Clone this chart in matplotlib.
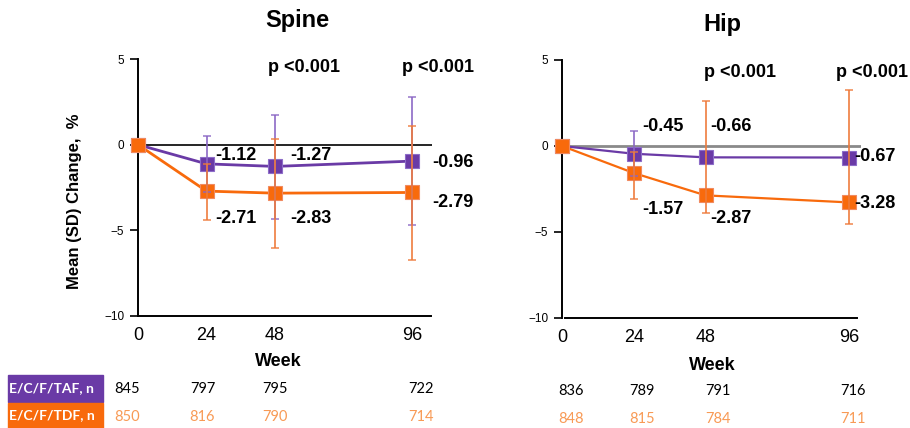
import numpy as np
import matplotlib
matplotlib.use('Agg')
from matplotlib import pyplot as plt
from matplotlib.patches import Rectangle

plt.rcParams['font.family'] = ['Liberation Sans', 'DejaVu Sans']

weeks     = np.array([0, 24, 48, 96])
nan       = np.nan

# mean change, %
spine_taf = np.array([0, -1.12, -1.27, -0.96])
spine_tdf = np.array([0, -2.71, -2.83, -2.79])
hip_taf   = np.array([0, -0.45, -0.66, -0.67])
hip_tdf   = np.array([0, -1.57, -2.87, -3.28])

# error bar ends (SD), as drawn in the picture
spine_taf_lo = np.array([nan, -2.77, -4.35, -4.70])
spine_taf_hi = np.array([nan,  0.53,  1.75,  2.77])
spine_tdf_lo = np.array([nan, -4.42, -6.02, -6.72])
spine_tdf_hi = np.array([nan, -1.13,  0.31,  1.11])
hip_taf_lo   = np.array([nan, -1.75,   nan,   nan])
hip_taf_hi   = np.array([nan,  0.85,   nan,   nan])
hip_tdf_lo   = np.array([nan, -3.08, -3.91, -4.53])
hip_tdf_hi   = np.array([nan, -0.35,  2.62,  3.24])

p_label   = 'p <0.001'
row_names = ['E/C/F/TAF, n', 'E/C/F/TDF, n']
spine_n   = [[845, 797, 795, 722], [850, 816, 790, 714]]
hip_n     = [[836, 789, 791, 716], [848, 815, 784, 711]]

PURPLE   = '#6A3AA6'
ORANGE   = '#F86A0C'
PURPLE_E = '#8A66C4'
ORANGE_E = '#EE7A3A'
ORANGE_T = '#F89A55'

W, H = 910, 428
fig = plt.figure(figsize=(W / 100, H / 100), dpi=100)

def fx(px): return px / W
def fy(py): return 1 - py / H

def draw_bars(ax, mean, lo, hi, color):
  m = ~np.isnan(lo)
  yerr = [mean[m] - lo[m], hi[m] - mean[m]]
  ax.errorbar(weeks[m], mean[m], yerr=yerr, fmt='none', ecolor=color,
              elinewidth=1.3, capsize=2.8, capthick=1.1, alpha=0.9, zorder=5)

def panel(rect, taf, tdf, bars, xmax, zcolor, zlw, lw, ms, xb):
  ax = fig.add_axes(rect)
  ax.plot([0, xmax], [0, 0], color=zcolor, lw=zlw, zorder=1, solid_capstyle='butt')
  ax.plot(weeks, taf, '-s', color=PURPLE, lw=lw, ms=ms, mec='#8C6CC8', mew=0.8, zorder=3, clip_on=False)
  ax.plot(weeks, tdf, '-s', color=ORANGE, lw=lw, ms=ms, mec='#F08A60', mew=0.8, zorder=3, clip_on=False)
  for (mean, lo, hi, c) in bars:
    draw_bars(ax, mean, lo, hi, c)
  ax.set_xlim(0, xmax)
  ax.set_ylim(-10, 5)
  ax.set_yticks([5, 0, -5, -10])
  ax.set_xticks(weeks)
  for s in ['top', 'right']:
    ax.spines[s].set_visible(False)
  ax.spines['left'].set_linewidth(1.4)
  ax.spines['bottom'].set_linewidth(1.4)
  ax.spines['bottom'].set_bounds(*xb)
  ax.tick_params(axis='y', length=6, width=1.2, labelsize=8.5, pad=4)
  ax.tick_params(axis='x', length=0, labelsize=13, pad=8)
  ax.patch.set_alpha(0)
  return ax

ax1 = panel([fx(138), fy(316), fx(432) - fx(138), fy(59) - fy(316)],
            spine_taf, spine_tdf,
            [(spine_taf, spine_taf_lo, spine_taf_hi, PURPLE_E),
             (spine_tdf, spine_tdf_lo, spine_tdf_hi, ORANGE_E)],
            103, 'black', 1.2, 2.0, 10.5, (0, 102.5))
ax2 = panel([fx(562), fy(318), fx(861) - fx(562), fy(60) - fy(318)],
            hip_taf, hip_tdf,
            [(hip_taf, hip_taf_lo, hip_taf_hi, PURPLE_E),
             (hip_tdf, hip_tdf_lo, hip_tdf_hi, ORANGE_E)],
            100, '#8A8A8A', 2.0, 1.6, 9.5, (1.1, 98.8))

lab = dict(fontsize=13, fontweight='bold', va='center', ha='left')
# spine value labels
for x, y, v in [(27, -0.64, spine_taf[1]), (53.3, -0.64, spine_taf[2]), (103, -1.05, spine_taf[3]),
                (27, -4.33, spine_tdf[1]), (53.3, -4.33, spine_tdf[2]), (103, -3.4, spine_tdf[3])]:
  ax1.text(x, y, f'{v:.2f}', clip_on=False, **lab)
for x, y, v in [(27, 1.16, hip_taf[1]), (49.7, 1.16, hip_taf[2]), (97.6, -0.62, hip_taf[3]),
                (27, -3.72, hip_tdf[1]), (49.7, -4.24, hip_tdf[2]), (97.6, -3.37, hip_tdf[3])]:
  ax2.text(x, y, f'{v:.2f}', clip_on=False, **lab)

for x in [58, 105]:
  ax1.text(x, 4.5, p_label, fontsize=13, fontweight='bold', ha='center', va='center', clip_on=False)
for x in [59.4, 103.8]:
  ax2.text(x, 4.3, p_label, fontsize=13, fontweight='bold', ha='center', va='center', clip_on=False)

fig.text(fx(297), fy(21), 'Spine', fontsize=17, fontweight='bold', ha='center', va='center')
fig.text(fx(722), fy(24), 'Hip', fontsize=17, fontweight='bold', ha='center', va='center')
fig.text(fx(278), fy(361), 'Week', fontsize=13, fontweight='bold', ha='center', va='center')
fig.text(fx(712), fy(365), 'Week', fontsize=13, fontweight='bold', ha='center', va='center')
fig.text(fx(74), fy(201), 'Mean (SD) Change,  %', fontsize=12, fontweight='bold',
         rotation=90, ha='center', va='center')

# n at risk table
box_y = [(375, 402), (403, 428)]
for (y0, y1), c, name in zip(box_y, [PURPLE, ORANGE], row_names):
  fig.patches.append(Rectangle((fx(8), fy(y1)), fx(103) - fx(8), fy(y0) - fy(y1),
                               transform=fig.transFigure, color=c, zorder=0))
  fig.text(fx(9), fy((y0 + y1) / 2), name, fontsize=10, fontweight='bold', color='white',
           ha='left', va='center', family=['Lato', 'DejaVu Sans'])

spine_nx = [127.5, 202.5, 275, 421]
hip_nx   = [571, 641.7, 718, 853]
for rows, xs, ys in [(spine_n, spine_nx, [389, 417]), (hip_n, hip_nx, [391, 419])]:
  for row, y, c in zip(rows, ys, ['black', ORANGE_T]):
    for x, v in zip(xs, row):
      fig.text(fx(x), fy(y), str(v), fontsize=10.5, color=c, ha='center', va='center',
               family=['Lato', 'DejaVu Sans'])

fig.savefig('out.png', dpi=100)
